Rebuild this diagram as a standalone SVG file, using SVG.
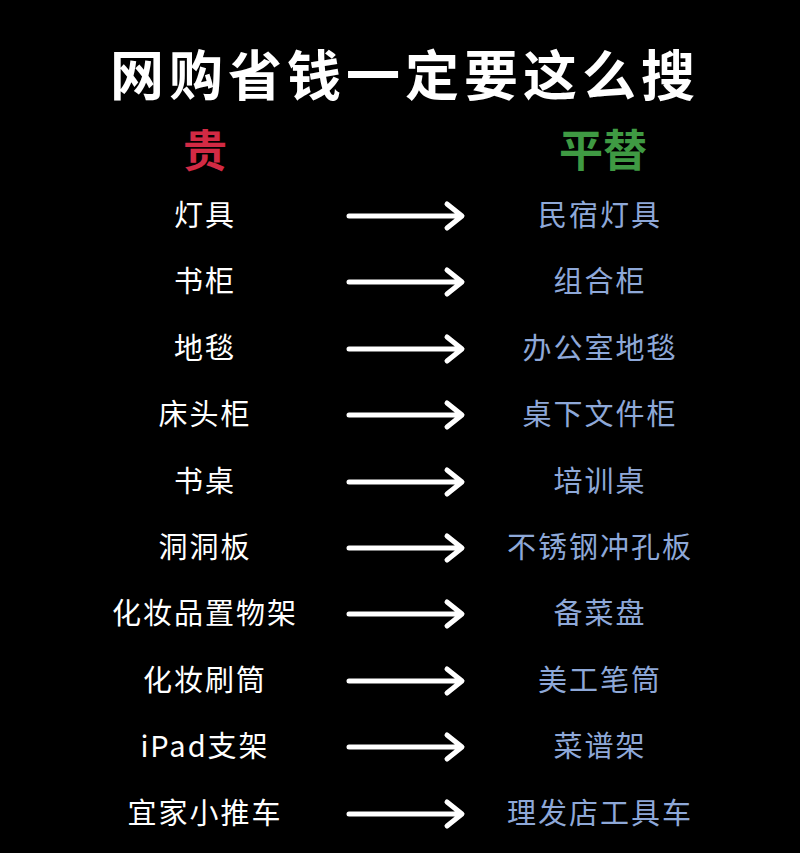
<svg xmlns="http://www.w3.org/2000/svg" width="800" height="853" viewBox="0 0 800 853">
<style>
text{font-family:"Noto Sans CJK SC","Noto Sans",sans-serif;text-anchor:middle;dominant-baseline:central}
.l{fill:#fff;font-size:29px;letter-spacing:2px}
.r{fill:#8ea8d8;font-size:29px;letter-spacing:2px}
.a{stroke:#fff;stroke-width:5;fill:none;stroke-linecap:round;stroke-linejoin:round}
</style>
<rect width="800" height="853" fill="#000"/>
<text x="405" y="72" fill="#fff" font-size="54" font-weight="bold" letter-spacing="5">网购省钱一定要这么搜</text>
<text x="205" y="148" fill="#d22a44" font-size="44" font-weight="bold">贵</text>
<text x="603" y="148" fill="#3f9a43" font-size="44" font-weight="bold">平替</text>
<g id="left">
<text class="l" x="205" y="213">灯具</text>
<text class="l" x="205" y="279">书柜</text>
<text class="l" x="205" y="346">地毯</text>
<text class="l" x="205" y="412">床头柜</text>
<text class="l" x="205" y="479">书桌</text>
<text class="l" x="205" y="545">洞洞板</text>
<text class="l" x="205" y="611">化妆品置物架</text>
<text class="l" x="205" y="678">化妆刷筒</text>
<text class="l" x="205" y="744">iPad支架</text>
<text class="l" x="205" y="811">宜家小推车</text>
</g>
<g id="right">
<text class="r" x="600" y="213">民宿灯具</text>
<text class="r" x="600" y="279">组合柜</text>
<text class="r" x="600" y="346">办公室地毯</text>
<text class="r" x="600" y="412">桌下文件柜</text>
<text class="r" x="600" y="479">培训桌</text>
<text class="r" x="600" y="545">不锈钢冲孔板</text>
<text class="r" x="600" y="611">备菜盘</text>
<text class="r" x="600" y="678">美工笔筒</text>
<text class="r" x="600" y="744">菜谱架</text>
<text class="r" x="600" y="811">理发店工具车</text>
</g>
<g id="connectors" class="a">
<path d="M349 216H461M447 204L462 216L447 228"/>
<path d="M349 282H461M447 270L462 282L447 294"/>
<path d="M349 349H461M447 337L462 349L447 361"/>
<path d="M349 415H461M447 403L462 415L447 427"/>
<path d="M349 482H461M447 470L462 482L447 494"/>
<path d="M349 548H461M447 536L462 548L447 560"/>
<path d="M349 614H461M447 602L462 614L447 626"/>
<path d="M349 681H461M447 669L462 681L447 693"/>
<path d="M349 747H461M447 735L462 747L447 759"/>
<path d="M349 814H461M447 802L462 814L447 826"/>
</g>
</svg>
